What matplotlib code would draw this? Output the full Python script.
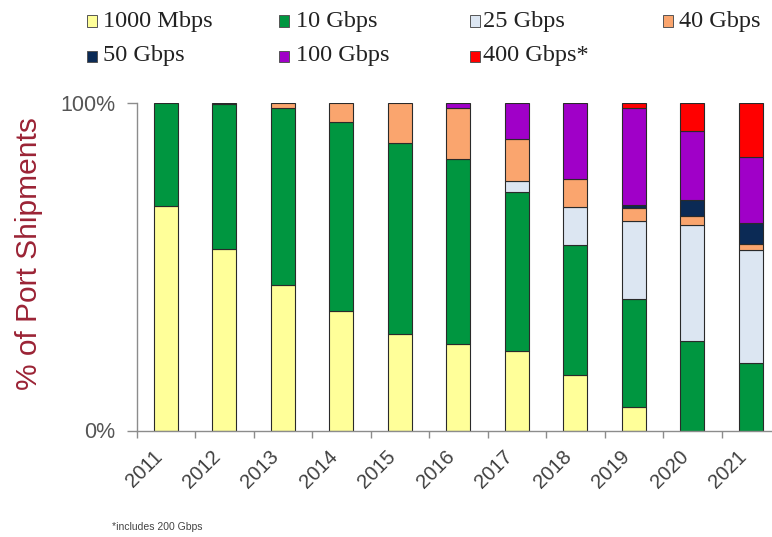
import numpy as np
import matplotlib
matplotlib.use("Agg")
import matplotlib.pyplot as plt
from matplotlib.patches import Rectangle
from matplotlib.ticker import FixedLocator

# Share of port shipments by speed (percent of total), 2011-2021
years = ["2011", "2012", "2013", "2014", "2015", "2016",
         "2017", "2018", "2019", "2020", "2021"]
speed_labels = ["1000 Mbps", "10 Gbps", "25 Gbps", "40 Gbps",
                "50 Gbps", "100 Gbps", "400 Gbps*"]
share_1g = [68.5, 55.3, 44.3, 36.4, 29.3, 26.3, 24.4, 17.0, 7.3, 0.0, 0.0]
share_10g = [31.5, 44.2, 54.0, 57.6, 58.3, 56.4, 48.4, 39.7, 32.9, 27.3, 20.7]
share_25g = [0.0, 0.0, 0.0, 0.0, 0.0, 0.0, 3.4, 11.5, 23.8, 35.3, 34.5]
share_40g = [0.0, 0.5, 1.7, 6.0, 12.4, 15.6, 12.7, 8.5, 4.0, 2.8, 1.6]
share_50g = [0.0, 0.0, 0.0, 0.0, 0.0, 0.0, 0.0, 0.0, 0.7, 4.9, 6.6]
share_100g = [0.0, 0.0, 0.0, 0.0, 0.0, 1.7, 11.1, 23.3, 29.6, 21.1, 20.1]
share_400g = [0.0, 0.0, 0.0, 0.0, 0.0, 0.0, 0.0, 0.0, 1.7, 8.6, 16.5]
y_tick_values = [0, 100]
y_tick_labels = ["0%", "100%"]

series = [share_1g, share_10g, share_25g, share_40g,
          share_50g, share_100g, share_400g]
colors = ["#FFFF99", "#009640", "#DCE6F2", "#FAA56E",
          "#0B2A55", "#A000C8", "#FF0000"]

W, H = 772, 537
fig = plt.figure(figsize=(W / 100, H / 100), dpi=100)
fig.patch.set_facecolor("white")


def fx(px):
    return px / W


def fy(py):
    return 1 - py / H


ax_left, ax_right, ax_top, ax_bottom = 136.5, 780.0, 102.7, 430.5
ax = fig.add_axes([fx(ax_left), fy(ax_bottom),
                   fx(ax_right - ax_left), (ax_bottom - ax_top) / H])

x = np.arange(len(years))
bottom = np.zeros(len(years))
for vals, col in zip(series, colors):
    v = np.asarray(vals, dtype=float)
    keep = v > 0
    ax.bar(x[keep], v[keep], bottom=bottom[keep], width=0.41,
           color=col, edgecolor="#2a2a2a", linewidth=0.8, zorder=2)
    bottom += v

ax.set_xlim(-0.5, len(years) - 0.5)
ax.set_ylim(0, 100)

for side in ("top", "right"):
    ax.spines[side].set_visible(False)
for side in ("left", "bottom"):
    ax.spines[side].set_color("#8c8c8c")
    ax.spines[side].set_linewidth(1.0)

ax.set_yticks(y_tick_values)
ax.set_yticklabels(y_tick_labels, fontsize=15.5, color="#555555",
                   family="Liberation Sans")
ax.tick_params(axis="y", length=7, width=1.0, color="#8c8c8c", pad=8)

ax.set_xticks(x)
ax.set_xticklabels(years, rotation=45, ha="right", fontsize=14.5,
                   color="#404040", family="Liberation Sans")
ax.xaxis.set_minor_locator(FixedLocator(np.arange(-0.5, len(years), 1.0)))
ax.tick_params(axis="x", which="major", length=0, pad=12)
ax.tick_params(axis="x", which="minor", length=5, width=1.0, color="#8c8c8c")

fig.text(fx(29), fy(254), "% of Port Shipments", rotation=90,
         ha="center", va="center", fontsize=21.5, color="#9B2335",
         family="Liberation Sans")

# Legend laid out as a 4 x 2 grid above the plot
marker_x = [87, 279, 470, 663]
text_x = [103, 296, 483, 679]
row_y = [21, 56]
for i, (lab, col) in enumerate(zip(speed_labels, colors)):
    r, c = divmod(i, 4)
    fig.patches.append(Rectangle((fx(marker_x[c]), fy(row_y[r] + 6)),
                                 fx(10), 11.5 / H, transform=fig.transFigure,
                                 facecolor=col, edgecolor="#555555",
                                 linewidth=0.7))
    fig.text(fx(text_x[c]), fy(row_y[r]), lab, ha="left", va="center",
             fontsize=17.5, color="#222222", family="Liberation Serif")

fig.text(fx(112), fy(527), "*includes 200 Gbps", ha="left", va="center",
         fontsize=7.5, color="#444444", family="Liberation Sans")

fig.savefig("out.png", dpi=100)
